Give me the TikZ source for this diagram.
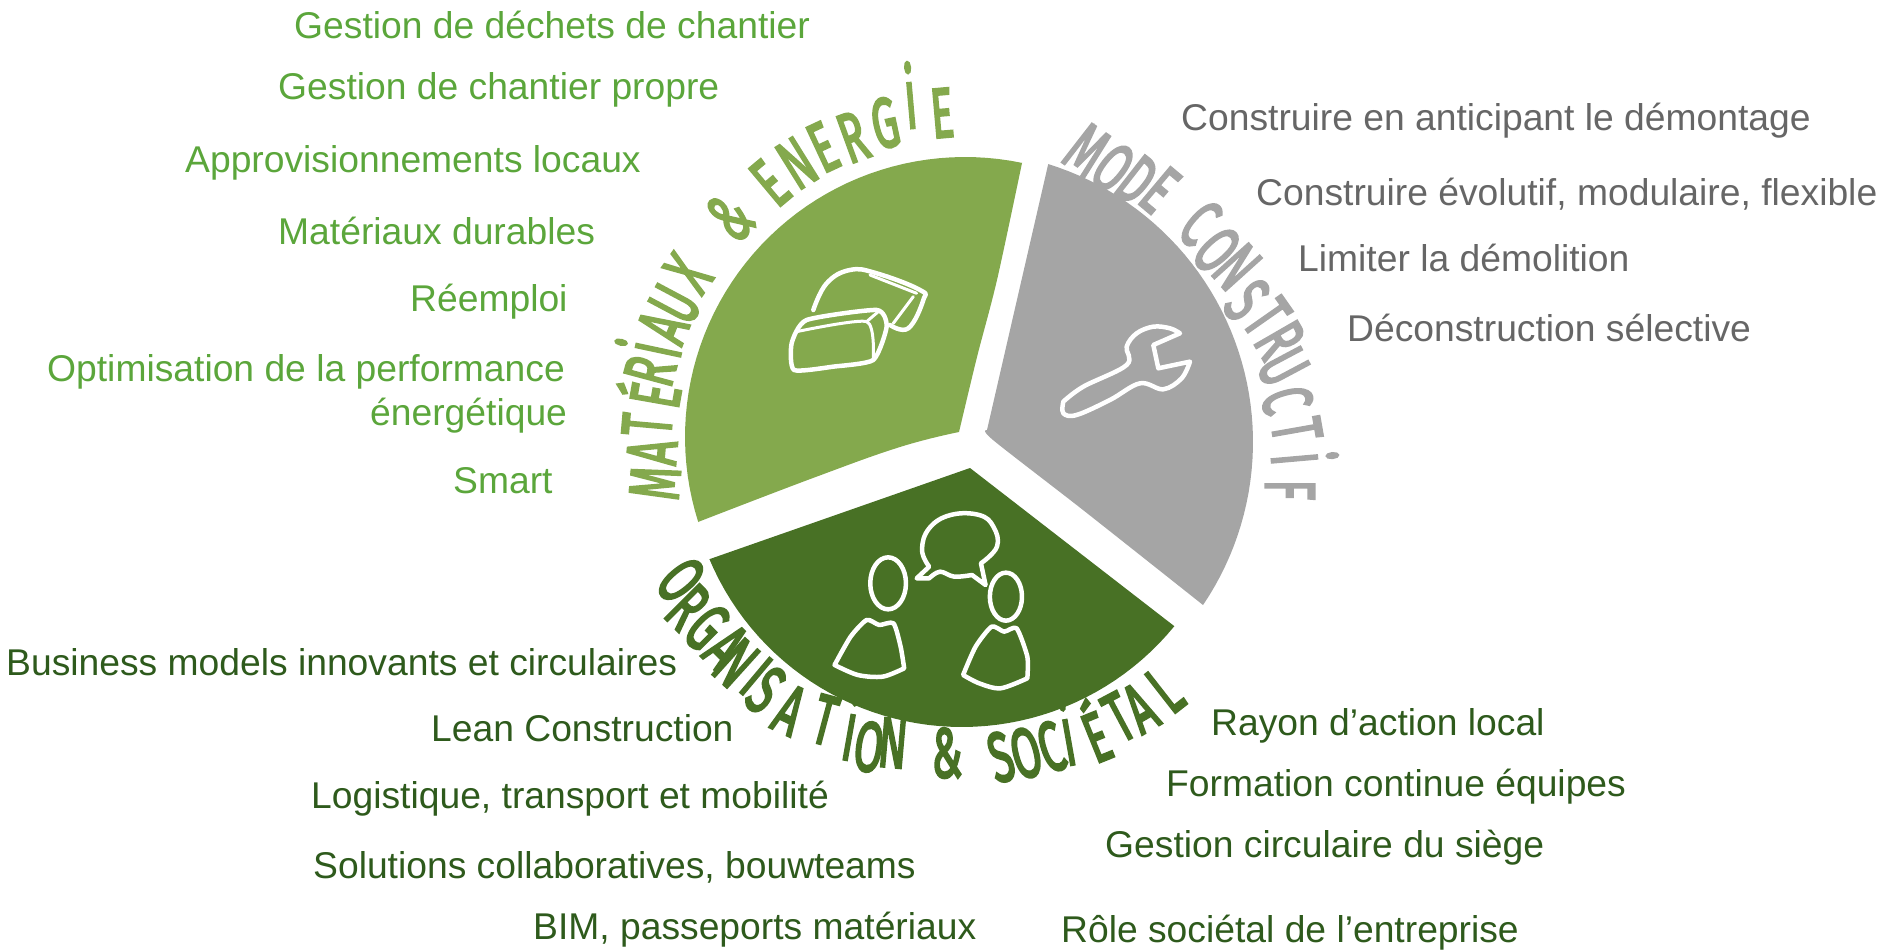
\documentclass[tikz,border=0pt]{standalone}
\usepackage{graphicx}
\usepackage{fontspec}
\setmainfont{Liberation Sans}
\newfontfamily\handfont{Fira Sans}[FakeBold=4]
\definecolor{lgreen}{HTML}{84A94D}
\definecolor{dgreen}{HTML}{487125}
\definecolor{sgrey}{HTML}{A5A5A5}
\definecolor{tlight}{HTML}{5BA63B}
\definecolor{tgrey}{HTML}{666666}
\definecolor{tdark}{HTML}{2E5A1C}
\tikzset{
  label/.style={anchor=base west,inner sep=0pt,font=\fontsize{37.25}{37.25}\selectfont},
  hand/.style={inner sep=0pt,font=\handfont\fontsize{70}{70}\selectfont},
  icon/.style={draw=white,line width=4.5pt,line join=round,line cap=round},
  thin icon/.style={draw=white,line width=3pt,line join=round,line cap=round}
}
\newcommand{\hl}[1]{\scalebox{.6}[1]{#1}}
\newcommand{\hi}{\scalebox{1}[1.2]{i}}
\begin{document}
\begin{tikzpicture}[x=1pt,y=-1pt]
\useasboundingbox (0,0) rectangle (1881,950);
% segments
\fill[lgreen] plot[domain=197.7:78.2,samples=50] ({965+280*cos(\x)},{437-280*sin(\x)})
  -- plot[smooth,tension=.5] coordinates {(1022,163) (997,280) (977,357) (959,432)}
  -- plot[smooth,tension=.7] coordinates {(959,432) (900,447) (813,478) (698,522)} -- cycle;
\fill[sgrey] plot[domain=72.75:-34,samples=50] ({962+291*cos(\x)},{442-291*sin(\x)})
  -- plot[smooth,tension=.5] coordinates {(1203,605) (1083,510) (993,440) (987,430)}
  -- plot[smooth,tension=.5] coordinates {(987,430) (1013,317) (1048,165)} -- cycle;
\fill[dgreen] plot[domain=202.8:320.8,samples=50] ({962+274*cos(\x)},{453-274*sin(\x)})
  -- (970,468) -- cycle;
% bricks
\begin{scope}[shift={(600,50)},x=.3333pt,y=-.3333pt]
\draw[icon] plot[smooth cycle,tension=.35] coordinates {(575,880) (582,960) (700,950) (820,930) (860,830) (830,780) (620,810)};
\draw[thin icon] plot[smooth,tension=.4] coordinates {(590,845) (800,815) (820,925)};
\draw[thin icon] (800,815) -- (835,785);
\draw[icon] plot[smooth,tension=.7] coordinates {(640,780) (680,700) (750,660) (830,670) (960,720) (970,750) (925,835) (870,825)};
\draw[thin icon] (940,740) -- (880,820);
\draw[thin icon] (810,675) -- (950,730);
\end{scope}
% wrench
\begin{scope}[shift={(950,100)},x=.3333pt,y=-.3333pt]
\draw[icon] plot[smooth,tension=.6] coordinates {(340,905) (400,860) (530,795) (530,740) (560,700) (610,680) (660,685) (690,700)}
  -- (610,735) -- (625,805) -- (720,785)
  -- plot[smooth,tension=.6] coordinates {(720,785) (695,835) (640,868) (570,850) (480,900) (380,945) (340,940) (340,905)} -- cycle;
\end{scope}
% people
\begin{scope}[shift={(640,460)},x=.357pt,y=-.3333pt]
\draw[icon] (695,370) ellipse [x radius=50,y radius=78];
\draw[icon] (1025,410) ellipse [x radius=45,y radius=72];
\draw[icon] plot[smooth,tension=.4] coordinates {(545,615) (590,530) (635,480) (670,495) (710,490) (730,560) (740,625)}
  -- plot[smooth,tension=.5] coordinates {(740,625) (680,650) (610,645) (545,615)} -- cycle;
\draw[icon] plot[smooth,tension=.4] coordinates {(905,645) (940,560) (985,500) (1020,515) (1055,505) (1085,590) (1085,655)}
  -- plot[smooth,tension=.5] coordinates {(1085,655) (1010,685) (950,670) (905,645)} -- cycle;
\draw[icon] (775,355) -- (810,320)
  -- plot[smooth,tension=.7] coordinates {(810,320) (790,270) (810,205) (870,165) (950,165) (990,200) (1000,260) (955,310)}
  -- (968,375) -- (930,345)
  -- plot[smooth,tension=.6] coordinates {(930,345) (880,350) (840,335) (810,355)} -- cycle;
\end{scope}
% hand lettering
\foreach \l/\x/\y/\r [count=\i] in {M/655/483/85,A/652/452/85,T/647/425/85,É/648/394/80,R/650/371/75,\hi/648/348/78,A/663/327/68,U/675/304/62,X/688/273/55,\&/730/217/45,E/770/183/40,N/797/163/32,E/823/147/25,R/853/137/20,G/885/123/12,\hi/910/95/5,E/942/113/5}
  \node[hand,text=lgreen,rotate=\r] (ma\i) at (\x,\y) {\hl{\l}};
\foreach \l/\x/\y/\r [count=\i] in {M/1087/150/-35,O/1113/168/-38,D/1137/180/-38,E/1160/190/-40,C/1200/223/-42,O/1217/250/-48,N/1237/267/-48,S/1247/300/-50,T/1267/317/-55,R/1280/340/-60,U/1283/367/-62,C/1287/400/-75,T/1297/430/-80,\hi/1305/458/-85,F/1290/490/-90}
  \node[hand,text=sgrey,rotate=\r] (mo\i) at (\x,\y) {\hl{\l}};
\foreach \l/\x/\y/\r [count=\i] in {O/681/580/-50,R/688/607/-45,G/707/627/-45,A/726/647/-45,N/736/663/-42,\hi/763/668/-40,S/766/690/-38,A/790/710/-25,T/825/720/-15,\hi/851/727/-10,O/869/747/-8,N/893/743/-5,\&/947/753/0,S/1001/757/15,O/1026/753/15,C/1051/747/18,\hi/1067/732/10,É/1094/730/22,T/1119/717/28,A/1140/708/30,L/1165/690/38}
  \node[hand,text=dgreen,rotate=\r] (or\i) at (\x,\y) {\hl{\l}};
% light green labels
\node[label,text=tlight] (t1) at (294,39) {Gestion de déchets de chantier};
\node[label,text=tlight] (t2) at (278,99) {Gestion de chantier propre};
\node[label,text=tlight] (t3) at (185,172) {Approvisionnements locaux};
\node[label,text=tlight] (t4) at (278,244) {Matériaux durables};
\node[label,text=tlight] (t5) at (410,311) {Réemploi};
\node[label,text=tlight] (t6) at (47,381) {Optimisation de la performance};
\node[label,text=tlight] (t7) at (370,425) {énergétique};
\node[label,text=tlight] (t8) at (453,493) {Smart};
% grey labels
\node[label,text=tgrey] (g1) at (1181,130) {Construire en anticipant le démontage};
\node[label,text=tgrey] (g2) at (1256,205) {Construire évolutif, modulaire, flexible};
\node[label,text=tgrey] (g3) at (1298,271) {Limiter la démolition};
\node[label,text=tgrey] (g4) at (1347,341) {Déconstruction sélective};
% dark labels
\node[label,text=tdark] (d1) at (6,675) {Business models innovants et circulaires};
\node[label,text=tdark] (d2) at (431,741) {Lean Construction};
\node[label,text=tdark] (d3) at (311,808) {Logistique, transport et mobilité};
\node[label,text=tdark] (d4) at (313,878) {Solutions collaboratives, bouwteams};
\node[label,text=tdark] (d5) at (533,939) {BIM, passeports matériaux};
\node[label,text=tdark] (d6) at (1211,735) {Rayon d’action local};
\node[label,text=tdark] (d7) at (1166,796) {Formation continue équipes};
\node[label,text=tdark] (d8) at (1105,857) {Gestion circulaire du siège};
\node[label,text=tdark] (d9) at (1061,942) {Rôle sociétal de l’entreprise};
\end{tikzpicture}
\end{document}
